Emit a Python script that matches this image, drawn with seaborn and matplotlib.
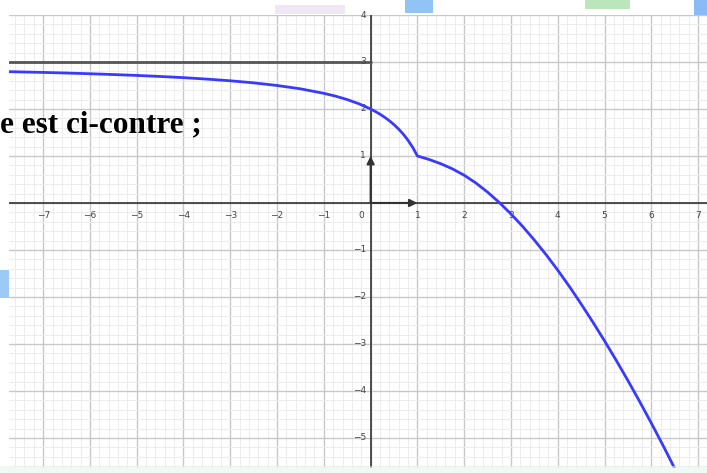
import matplotlib
matplotlib.use("Agg")
import matplotlib.pyplot as plt
import matplotlib.patches as mpatches
import seaborn as sns
import pandas as pd

# Curve f, read point by point (left branch up to the corner at x = 1, then right branch)
curve_x = [-7.73, -7.5, -7.0, -6.5, -6.0, -5.5, -5.0, -4.5, -4.0, -3.5, -3.0, -2.5,
           -2.0, -1.5, -1.0, -0.75, -0.5, -0.25, 0.0, 0.1, 0.2, 0.3, 0.4, 0.5,
           0.6, 0.7, 0.8, 0.9, 1.0,
           1.25, 1.5, 1.75, 2.0, 2.25, 2.5, 2.75, 3.0, 3.25, 3.5, 3.75, 4.0,
           4.25, 4.5, 4.75, 5.0, 5.25, 5.5, 5.75, 6.0, 6.25, 6.5]
curve_y = [2.794, 2.789, 2.778, 2.765, 2.75, 2.733, 2.714, 2.692, 2.667, 2.636, 2.6, 2.556,
           2.5, 2.429, 2.333, 2.273, 2.2, 2.111, 2.0, 1.947, 1.889, 1.824, 1.75, 1.667,
           1.571, 1.462, 1.333, 1.182, 1.0,
           0.925, 0.835, 0.725, 0.59, 0.425, 0.23, 0.01, -0.235, -0.50, -0.79, -1.10, -1.43,
           -1.78, -2.15, -2.535, -2.935, -3.35, -3.78, -4.225, -4.685, -5.16, -5.65]

# Horizontal asymptote y = 3, drawn on the negative side
asym_x = [-7.73, 0.0]
asym_y = [3.0, 3.0]

x_ticks = [-7, -6, -5, -4, -3, -2, -1, 0, 1, 2, 3, 4, 5, 6, 7]
y_ticks = [-5, -4, -3, -2, -1, 1, 2, 3, 4]

XLIM = (-7.73, 7.19)
YLIM = (-5.64, 4.0)

W, H = 707, 473
fig = plt.figure(figsize=(W / 100, H / 100), dpi=100)
sns.set_style("white")
ax = fig.add_axes([9 / W, 5 / H, 698 / W, 453 / H])

sns.lineplot(data=pd.DataFrame({"x": asym_x, "y": asym_y}), x="x", y="y", ax=ax,
             color="#555555", lw=2.0, sort=False, estimator=None, zorder=3)
sns.lineplot(data=pd.DataFrame({"x": curve_x, "y": curve_y}), x="x", y="y", ax=ax,
             color="#3a3aff", lw=2.0, sort=False, estimator=None, zorder=5)
ax.set_xlabel("")
ax.set_ylabel("")

# grid: major every unit, minor every 0.2
minor = [i / 5 for i in range(-40, 41)]
ax.set_xticks(x_ticks)
ax.set_yticks(y_ticks + [0])
ax.set_xticks(minor, minor=True)
ax.set_yticks(minor, minor=True)
ax.grid(which="minor", color="#ececec", lw=0.7)
ax.grid(which="major", color="#c8c8c8", lw=1.0)
ax.tick_params(which="both", length=0, labelbottom=False, labelleft=False)
for s in ax.spines.values():
    s.set_visible(False)
ax.set_axisbelow(True)

# coordinate axes
ax.axhline(0, color="#333333", lw=1.2, zorder=2)
ax.axvline(0, color="#333333", lw=1.2, zorder=2)

for t in x_ticks:
    lbl = "0" if t == 0 else str(t).replace("-", "\u2212")
    ax.text(t - (0.2 if t == 0 else 0), -0.18, lbl, ha="center", va="top",
            fontsize=6.5, color="#444444", zorder=3)
for t in y_ticks:
    ax.text(-0.1, t, str(t).replace("-", "\u2212"), ha="right", va="center",
            fontsize=6.5, color="#444444", zorder=3)

# unit vectors
for end in [(1, 0), (0, 1)]:
    ax.annotate("", xy=end, xytext=(0, 0),
                arrowprops=dict(arrowstyle="-|>", color="#333333", lw=1.5,
                                mutation_scale=11, shrinkA=0, shrinkB=0),
                zorder=4)

ax.set_xlim(*XLIM)
ax.set_ylim(*YLIM)

# text of the surrounding page
fig.text(0, 1 - 132 / H, "e est ci-contre ;", family="Liberation Serif",
         fontweight="bold", fontsize=22.5, color="black", va="baseline", ha="left")

# bits of page colour around the graph
blobs = [(275, 5, 70, 9, "#e6d8ee"), (405, 0, 28, 13, "#4a9cf0"),
         (585, 0, 45, 9, "#8ed68e"), (694, 0, 13, 15, "#3d8ff0"),
         (0, 270, 9, 28, "#5aa8f0"), (0, 466, 707, 7, "#e8f6ee")]
for x0, y0, w, h, c in blobs:
    fig.patches.append(mpatches.Rectangle((x0 / W, 1 - (y0 + h) / H), w / W, h / H,
                                          transform=fig.transFigure, color=c,
                                          alpha=0.6, lw=0, zorder=0))

fig.savefig("out.png", dpi=100)
